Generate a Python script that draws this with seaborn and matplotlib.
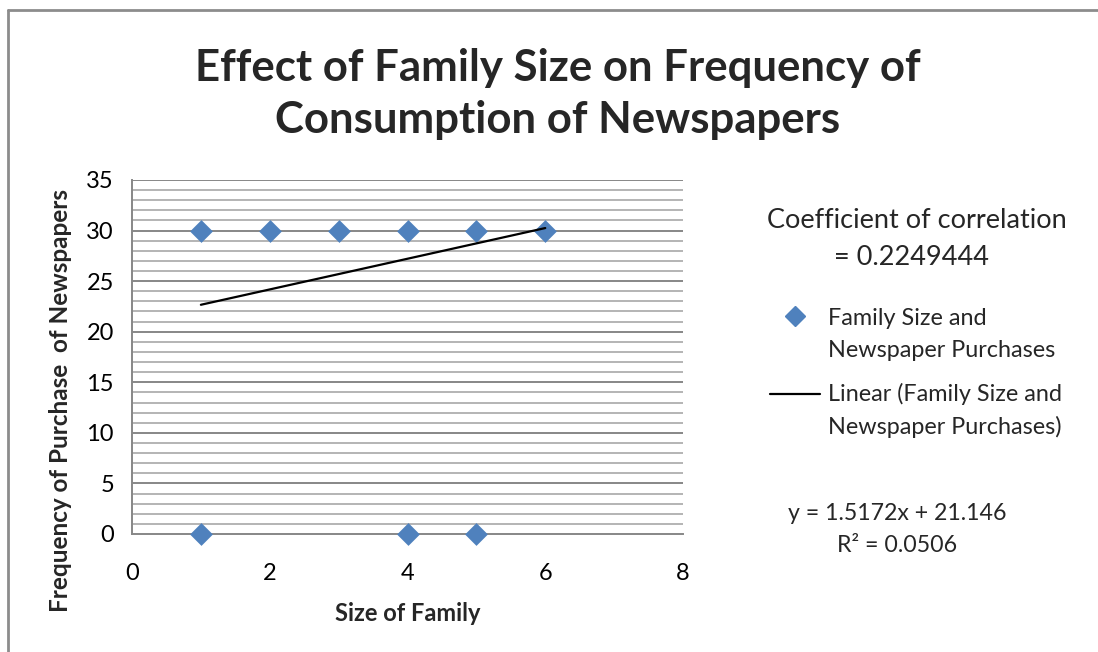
import matplotlib
matplotlib.use("Agg")
import matplotlib.pyplot as plt
from matplotlib.lines import Line2D
import seaborn as sns
import pandas as pd

# Observations: family size vs. newspaper purchases
family_size = [1, 2, 3, 4, 5, 6, 1, 4, 5]
purchases = [30, 30, 30, 30, 30, 30, 0, 0, 0]

# Fitted linear trend reported for the series
slope = 1.5172
intercept = 21.146
r_squared = 0.0506
correlation = 0.2249444

x_ticks = [0, 2, 4, 6, 8]
y_ticks = [0, 5, 10, 15, 20, 25, 30, 35]

title = "Effect of Family Size on Frequency of\nConsumption of Newspapers"
x_label = "Size of Family"
y_label = "Frequency of Purchase  of Newspapers"
series_label = "Family Size and\nNewspaper Purchases"
trend_label = "Linear (Family Size and\nNewspaper Purchases)"

sns.set_theme(style="white")
plt.rcParams["font.family"] = ["Lato", "DejaVu Sans"]

df = pd.DataFrame({"size": family_size, "purchases": purchases})

W, H = 1098, 652
fig = plt.figure(figsize=(W / 100, H / 100), dpi=100)
ax = fig.add_axes([132 / W, 1 - 534 / H, (683 - 132) / W, (534 - 180) / H])


def fx(px):
    return px / W


def fy(py):
    return 1 - py / H


blue = "#4F81BD"
major_grey = "#878787"
minor_grey = "#B4B4B4"

# Horizontal grid: major every 5, minor every 1
for v in range(1, 36):
    ax.axhline(v, color=major_grey if v % 5 == 0 else minor_grey,
               lw=1.4, zorder=0)

sns.scatterplot(data=df, x="size", y="purchases", marker="D", s=135,
                color=blue, edgecolor=blue, linewidth=0, ax=ax, zorder=3,
                clip_on=False, legend=False)

trend_x = [min(family_size), max(family_size)]
trend_y = [slope * v + intercept for v in trend_x]
ax.plot(trend_x, trend_y, color="black", lw=1.6, zorder=4)

ax.set_xlim(0, 8)
ax.set_ylim(0, 35)
ax.set_xticks(x_ticks)
ax.set_yticks(y_ticks)
ax.tick_params(axis="both", which="major", direction="out", length=8,
               width=1.4, color=major_grey, labelsize=17, labelcolor="black")
ax.tick_params(axis="x", pad=13)
ax.tick_params(axis="y", pad=5)
ax.grid(False)
for side in ["top", "right"]:
    ax.spines[side].set_visible(False)
for side in ["left", "bottom"]:
    ax.spines[side].set_color(major_grey)
    ax.spines[side].set_linewidth(1.4)

ax.set_xlabel(x_label, fontsize=17, fontweight="bold", labelpad=13)
ax.set_ylabel(y_label, fontsize=17.5, fontweight="bold")
ax.yaxis.set_label_coords((72 - 132) / (683 - 132), (534 - 401) / (534 - 180))

fig.text(fx(558), fy(94), title, ha="center", va="center",
         fontsize=31.5, fontweight="bold", linespacing=1.38)

fig.text(fx(917), fy(220), "Coefficient of correlation",
         ha="center", va="center", fontsize=19.5)
fig.text(fx(912), fy(258), f"= {correlation}",
         ha="center", va="center", fontsize=19.5)

# Legend: key aligned with the first line of each entry
fig.add_artist(Line2D([fx(795)], [fy(316)], marker="D", ls="none",
                      color=blue, markersize=10.5, transform=fig.transFigure))
fig.add_artist(Line2D([fx(770), fx(820)], [fy(394), fy(394)],
                      color="black", lw=1.6, transform=fig.transFigure))
for label, top in [(series_label, 318), (trend_label, 394)]:
    for i, line in enumerate(label.split("\n")):
        fig.text(fx(828), fy(top + 32.5 * i), line, ha="left", va="center",
                 fontsize=16.8)

fig.text(fx(897), fy(514), f"y = {slope}x + {intercept}",
         ha="center", va="center", fontsize=16.7)
fig.text(fx(897), fy(546), f"R² = {r_squared}",
         ha="center", va="center", fontsize=16.7)

# Chart frame along the top and left edges
fig.add_artist(Line2D([fx(8), 1], [fy(10), fy(10)],
                      transform=fig.transFigure, color="#8C8C8C", lw=2))
fig.add_artist(Line2D([fx(8), fx(8)], [0, fy(10)],
                      transform=fig.transFigure, color="#8C8C8C", lw=2))

fig.savefig("out.png", dpi=100, facecolor="white")
